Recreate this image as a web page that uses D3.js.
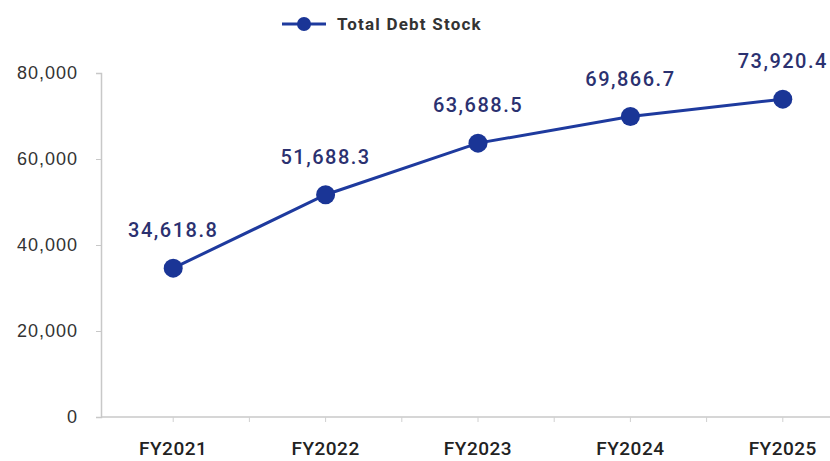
<!DOCTYPE html>
<html lang="en">
<head>
  <meta charset="UTF-8">
  <script src="https://d3js.org/d3.v7.min.js"></script>
  <style>
    body { margin: 0; background: #fff; }
  </style>
</head>
<body>
<div id="chart"></div>
<script>
  // data
  var years = ["FY2021", "FY2022", "FY2023", "FY2024", "FY2025"];
  var debtStock = [34618.8, 51688.3, 63688.5, 69866.7, 73920.4];
  var yTicks = [0, 20000, 40000, 60000, 80000];
  var seriesName = "Total Debt Stock";

  var W = 830, H = 461;
  var lineColor = "#1e3a9e";

  var svg = d3.select("#chart").append("svg")
    .attr("width", W).attr("height", H)
    .style("font-family", "Roboto, 'Liberation Sans', sans-serif");

  // the plot runs off the right edge a little, as in the reference
  var x = d3.scaleBand().domain(years).range([97, 859]);
  var y = d3.scaleLinear().domain([0, 80000]).range([417, 73]);

  // y axis
  var yAxis = svg.append("g")
    .attr("transform", "translate(101,0)")
    .call(d3.axisLeft(y).tickValues(yTicks).tickSize(5).tickPadding(18)
      .tickFormat(d3.format(",")));
  yAxis.select(".domain").attr("stroke", "#c8c8c8").attr("stroke-width", 1.5);
  yAxis.selectAll(".tick line").attr("stroke", "#c8c8c8");
  yAxis.selectAll("text").attr("fill", "#333")
    .style("font-size", "18px").style("font-weight", 500).style("letter-spacing", "1px");

  // x axis line
  svg.append("line")
    .attr("x1", 101).attr("x2", W).attr("y1", y(0)).attr("y2", y(0))
    .attr("stroke", "#c8c8c8").attr("stroke-width", 1.5);

  // x tick marks at band centres and band edges
  var marks = [];
  years.forEach(function(d) {
    marks.push(x(d) + x.bandwidth() / 2);
    marks.push(x(d) + x.bandwidth());
  });
  svg.selectAll(".xmark").data(marks).enter().append("line")
    .attr("x1", function(d) { return d; }).attr("x2", function(d) { return d; })
    .attr("y1", y(0)).attr("y2", y(0) + 5)
    .attr("stroke", "#d0d0d0");

  svg.selectAll(".xlab").data(years).enter().append("text")
    .attr("x", function(d) { return x(d) + x.bandwidth() / 2; })
    .attr("y", 455)
    .attr("text-anchor", "middle")
    .attr("fill", "#222")
    .style("font-size", "19px").style("font-weight", 500).style("letter-spacing", "0.5px")
    .text(function(d) { return d; });

  // line + markers
  var pts = years.map(function(d, i) { return { year: d, v: debtStock[i] }; });
  var line = d3.line()
    .x(function(d) { return x(d.year) + x.bandwidth() / 2; })
    .y(function(d) { return y(d.v); });

  svg.append("path").datum(pts)
    .attr("d", line)
    .attr("fill", "none")
    .attr("stroke", lineColor)
    .attr("stroke-width", 3);

  svg.selectAll(".dot").data(pts).enter().append("circle")
    .attr("cx", function(d) { return x(d.year) + x.bandwidth() / 2; })
    .attr("cy", function(d) { return y(d.v); })
    .attr("r", 9.5)
    .attr("fill", "#1a3596");

  svg.selectAll(".val").data(pts).enter().append("text")
    .attr("x", function(d) { return x(d.year) + x.bandwidth() / 2; })
    .attr("y", function(d) { return y(d.v) - 31; })
    .attr("text-anchor", "middle")
    .attr("fill", "#2b3170")
    .style("font-size", "20px").style("font-weight", 500).style("letter-spacing", "1.5px")
    .text(function(d) { return d3.format(",.1f")(d.v); });

  // legend
  var lg = svg.append("g").attr("transform", "translate(282,24)");
  lg.append("line").attr("x1", 0).attr("x2", 44).attr("y1", 0).attr("y2", 0)
    .attr("stroke", lineColor).attr("stroke-width", 3);
  lg.append("circle").attr("cx", 22).attr("cy", 0).attr("r", 7).attr("fill", "#1a3596");
  lg.append("text").attr("x", 55).attr("y", 6)
    .attr("fill", "#333")
    .style("font-size", "17px").style("font-weight", 700).style("letter-spacing", "1.2px")
    .text(seriesName);
</script>
</body>
</html>
